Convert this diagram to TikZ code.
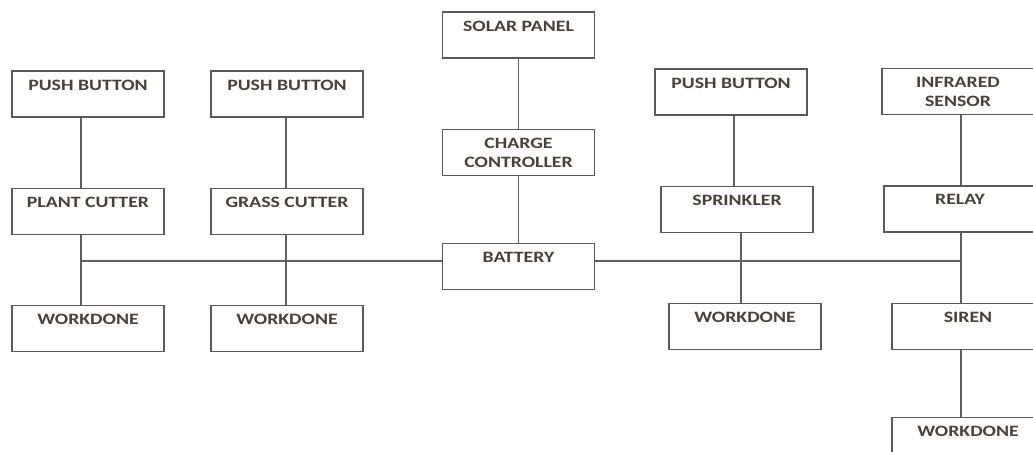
\documentclass[tikz,border=0pt]{standalone}
\usepackage{fontspec}
\newfontfamily\boxfont{Carlito}[FakeStretch=1.25]
\usetikzlibrary{positioning}
\definecolor{boxgray}{RGB}{90,90,90}
\definecolor{wiregray}{RGB}{95,95,95}
\definecolor{labelgray}{RGB}{70,66,62}
\tikzset{
  unitlabel/.style={inner sep=0pt,align=center,text=labelgray,
    font=\boxfont\bfseries\fontsize{9}{10.8}\selectfont},
  unitbox/.style={rectangle,draw=boxgray,line width=0.8pt,fill=white,
    minimum width=3.04cm,minimum height=0.92cm,
    label={[unitlabel,anchor=north,yshift=-0.18cm]north:#1}},
  wire/.style={draw=wiregray,line width=0.7pt},
}
\begin{document}
\begin{tikzpicture}[x=0.02cm,y=-0.02cm,node distance=1.4cm]
\useasboundingbox (0,0) rectangle (1033,452);
\clip (0,0) rectangle (1033,452);

%% -- junctions on the bus ---------------------------------------------
\coordinate (j1) at (81,261);
\coordinate (j2) at (286,261);
\coordinate (j3) at (741,261);
\coordinate (j4) at (961,261);
\coordinate (k3) at (734,0);

%% -- plant cutter column ----------------------------------------------
\node[unitbox={PUSH BUTTON}] (pb1) at (88,94) {};
\node[unitbox={PLANT CUTTER}, below=of pb1] (pc) {};
\node[unitbox={WORKDONE}, below=of pc] (wd1) {};

%% -- grass cutter column ----------------------------------------------
\node[unitbox={PUSH BUTTON}] (pb2) at (287,94) {};
\node[unitbox={GRASS CUTTER}, below=of pb2] (gc) {};
\node[unitbox={WORKDONE}, below=of gc] (wd2) {};

%% -- supply column ----------------------------------------------------
\node[unitbox={SOLAR PANEL}] (sp) at (518.5,35) {};
\node[unitbox={CHARGE\\CONTROLLER}, below=of sp] (cc) {};
\node[unitbox={BATTERY}, below=1.34cm of cc] (bat) {};

%% -- sprinkler column -------------------------------------------------
\node[unitbox={PUSH BUTTON}] (pb3) at (731,92) {};
\node[unitbox={SPRINKLER}, below=of pb3, xshift=0.12cm] (spr) {};
\node[unitbox={WORKDONE}, below=of spr, xshift=0.16cm] (wd3) {};

%% -- alarm column -----------------------------------------------------
\node[unitbox={INFRARED\\SENSOR}] (ir) at (958,91.5) {};
\node[unitbox={RELAY}, below=of ir, xshift=0.04cm] (rly) {};
\node[unitbox={SIREN}, below=of rly, xshift=0.16cm] (sir) {};
\node[unitbox={WORKDONE}, below=1.34cm of sir] (wd4) {};

%% -- wiring -----------------------------------------------------------
\draw[wire] (pb1.south -| j1) -- (pc.north -| j1);
\draw[wire] (pc.south -| j1) -- (wd1.north -| j1);
\draw[wire] (pb2.south -| j2) -- (gc.north -| j2);
\draw[wire] (gc.south -| j2) -- (wd2.north -| j2);
\draw[wire] (sp) -- (cc);
\draw[wire] (cc) -- (bat);
\draw[wire] (pb3.south -| k3) -- (spr.north -| k3);
\draw[wire] (spr.south -| j3) -- (wd3.north -| j3);
\draw[wire] (ir.south -| j4) -- (rly.north -| j4);
\draw[wire] (rly.south -| j4) -- (sir.north -| j4);
\draw[wire] (sir.south -| j4) -- (wd4.north -| j4);
% bus
\draw[wire] (j1) -- (j1 -| bat.west);
\draw[wire] (bat.east |- j4) -- (j4);

\end{tikzpicture}
\end{document}
